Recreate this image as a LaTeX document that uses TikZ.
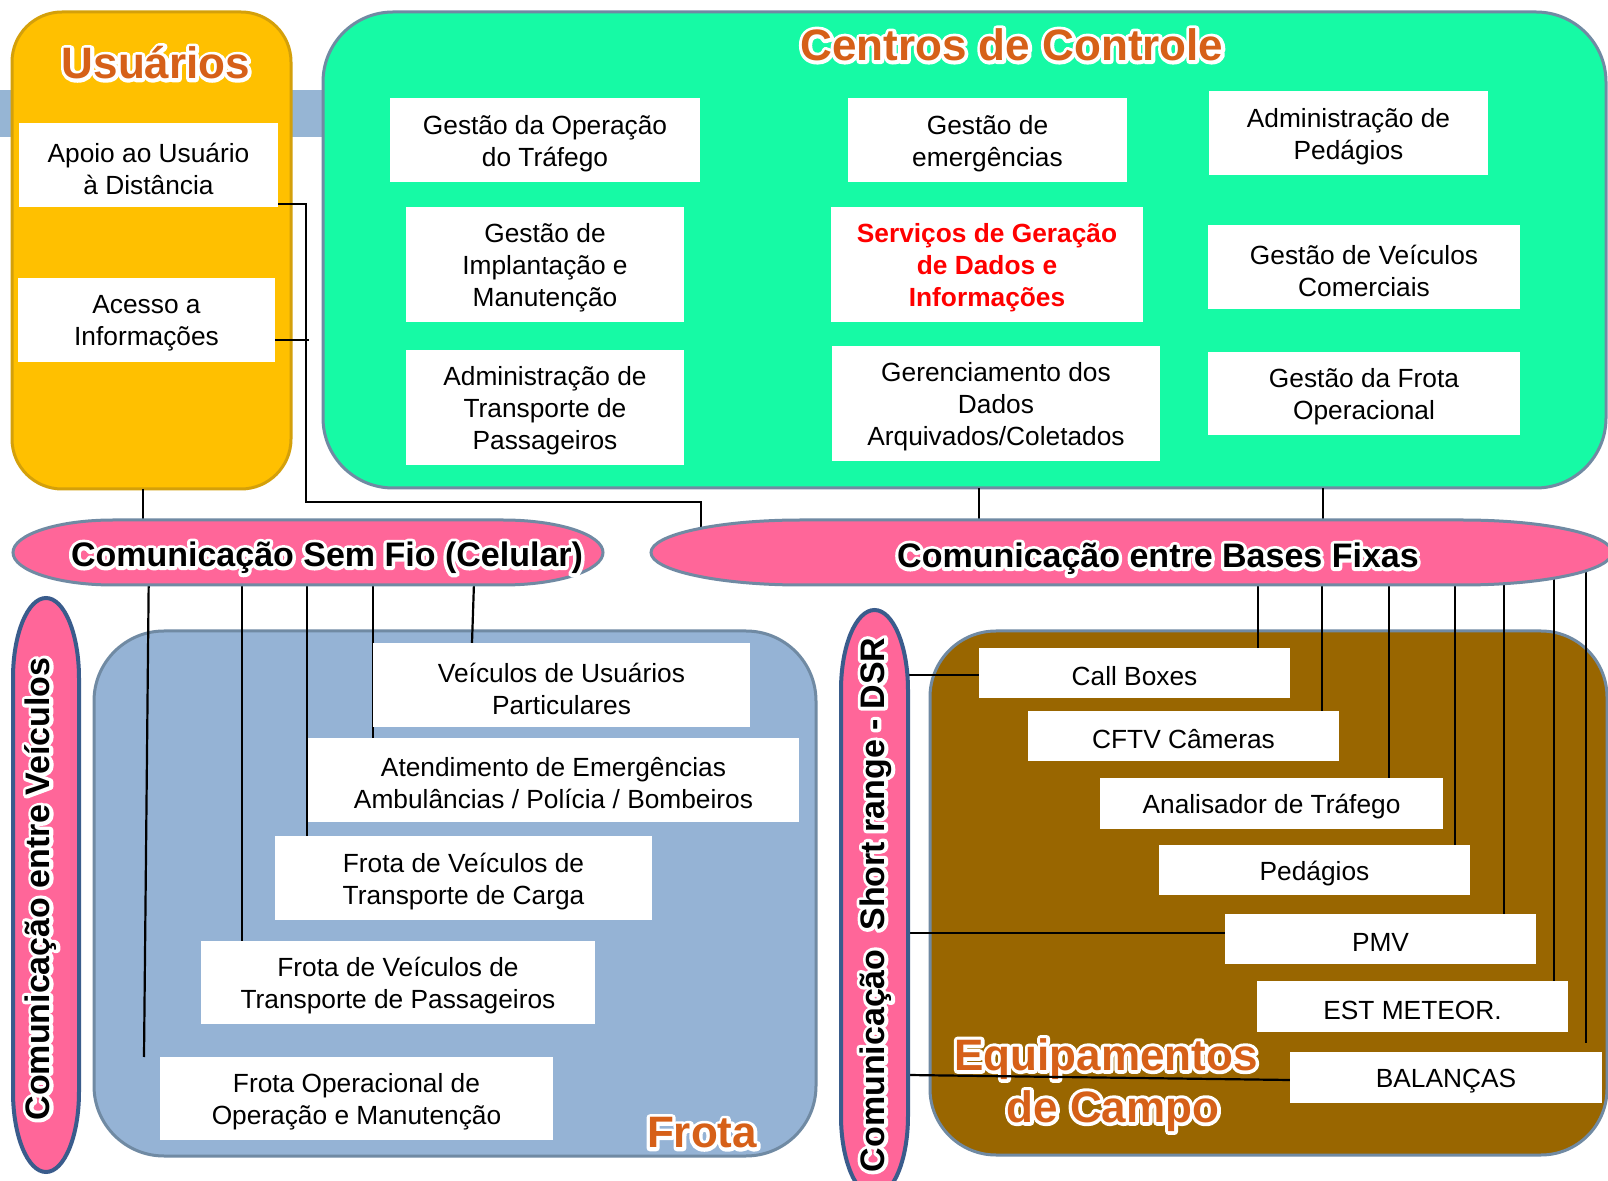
\documentclass[tikz,border=0pt]{standalone}
\usepackage{fontspec}
\setmainfont{Liberation Sans}
\pgfdeclarelayer{bg}
\pgfdeclarelayer{conn}
\pgfsetlayers{bg,conn,main}
\definecolor{usuF}{RGB}{255,192,0}
\definecolor{usuD}{RGB}{212,160,10}
\definecolor{ctrlF}{RGB}{22,250,165}
\definecolor{gbl}{RGB}{112,138,163}
\definecolor{dbl}{RGB}{58,92,140}
\definecolor{frF}{RGB}{149,179,213}
\definecolor{eqF}{RGB}{153,102,0}
\definecolor{pinkF}{RGB}{255,102,153}
\definecolor{titOr}{RGB}{214,96,24}
\definecolor{bandC}{RGB}{150,181,212}
\newcommand\bodyfont{\fontsize{13.15}{16}\selectfont}
\newcommand\titfont{\fontsize{22}{26}\selectfont\bfseries}
\newcommand\commfont{\fontsize{17}{20}\selectfont\bfseries}
% box from corners: style, name, x1, y1, x2, y2, text
\newcommand\bx[7]{\node[#1, minimum width={(#5-#3)*0.5pt}, minimum height={(#6-#4)*0.5pt}] (#2) at ({(#3+#5)/2},{(#4+#6)/2}) {#7};}
% white box with its text: text style, name, x1, y1, x2, y2, text
\newcommand\tb[7]{\bx{wbox}{#2}{#3}{#4}{#5}{#6}{}\node[#1, yshift=-1.75pt] (#2-t) at (#2.center) {#7};}
% horizontal band with elliptical caps: style, x1, y1, x2, y2, rx
\newcommand\hcap[6]{\path[#1] (#2+#6,#3) -- (#4-#6,#3) arc[start angle=90, end angle=-90, x radius=#6*0.5pt, y radius=(#5-#3)*0.25pt] -- (#2+#6,#5) arc[start angle=270, end angle=90, x radius=#6*0.5pt, y radius=(#5-#3)*0.25pt] -- cycle;}
% vertical band with elliptical caps: style, x1, y1, x2, y2, ry
\newcommand\vcap[6]{\path[#1] (#2,#3+#6) arc[start angle=180, end angle=0, x radius=(#4-#2)*0.25pt, y radius=#6*0.5pt] -- (#4,#5-#6) arc[start angle=0, end angle=-180, x radius=(#4-#2)*0.25pt, y radius=#6*0.5pt] -- cycle;}
% white stroked outline text
\newcommand\outlinetext[1]{\special{pdf:literal direct 1 Tr 3.4 w 1 j 1 J 1 1 1 RG}#1\special{pdf:literal direct 0 Tr}}
% outlined label: name, x,y, font, colour, rotation, text
\newcommand\glowlabel[6]{%
  \node[font=#3, text=white, rotate=#5, inner sep=0pt] (#1-o) at (#2) {\outlinetext{#6}};
  \node[font=#3, text=#4, rotate=#5, inner sep=0pt] (#1) at (#2) {#6};}
\tikzset{
  hold/.style={inner sep=0pt, outer sep=0pt},
  wbox/.style={hold, fill=white},
  wtext/.style={inner sep=0pt, align=center, font=\bodyfont},
  redtext/.style={wtext, text=red, font=\bodyfont\bfseries},
  usubox/.style={hold, fill=usuF, draw=usuD, line width=1.5pt, rounded corners=25pt},
  ctrlbox/.style={hold, fill=ctrlF, draw=gbl, line width=1.5pt, rounded corners=35pt},
  frotabox/.style={hold, fill=frF, draw=gbl, line width=1.5pt, rounded corners=35pt},
  eqbox/.style={hold, fill=eqF, draw=gbl, line width=1.5pt, rounded corners=33pt},
  pinkH/.style={fill=pinkF, draw=gbl, line width=1.5pt},
  pinkV/.style={fill=pinkF, draw=dbl, line width=2pt},
  conn/.style={draw=black, line width=1.1pt}
}
\begin{document}
\begin{tikzpicture}[x=0.5pt,y=-0.5pt]
\useasboundingbox (0,0) rectangle (1608,1181);
\begin{pgfonlayer}{bg}
  \fill[white] (0,0) rectangle (1608,1181);
  \fill[bandC] (0,90) rectangle (400,137);
  \bx{usubox}{usu}{12}{12}{291}{489}{}
  \bx{ctrlbox}{ctrl}{323}{12}{1606}{488}{}
  \bx{frotabox}{frota}{94}{631}{816}{1156}{}
  \bx{eqbox}{eqc}{930}{631}{1607}{1155}{}
  \glowlabel{tusu}{156,63}{\titfont}{titOr}{0}{Usuários}
  \glowlabel{tctrl}{1012,45}{\titfont}{titOr}{0}{Centros de Controle}
  \glowlabel{tfrota}{702,1133}{\titfont}{titOr}{0}{Frota}
  \glowlabel{teq}{1106,1059}{\titfont}{titOr}{0}{Equipamentos}
  \glowlabel{tcampo}{1113,1111}{\titfont}{titOr}{0}{de Campo}
\end{pgfonlayer}
% communication bands
\hcap{pinkH}{13}{520}{603}{585}{100}
\bx{hold}{semfio}{13}{520}{603}{585}{}
\hcap{pinkH}{651}{520}{1612}{585}{150}
\bx{hold}{bf}{651}{520}{1612}{585}{}
\vcap{pinkV}{13}{598}{79}{1172}{80}
\bx{hold}{cev}{13}{598}{79}{1172}{}
\vcap{pinkV}{841}{610}{908}{1196}{80}
\bx{hold}{dsr}{841}{610}{908}{1196}{}
\glowlabel{lsemfio}{327,558}{\commfont}{black}{0}{Comunicação Sem Fio (Celular)}
\glowlabel{lbf}{1158,559}{\commfont}{black}{0}{Comunicação entre Bases Fixas}
\glowlabel{lcev}{41,889}{\commfont}{black}{90}{Comunicação entre Veículos}
\glowlabel{ldsr}{876,905}{\commfont}{black}{90}{Comunicação\ \ Short range - DSR}
% Usuarios
\tb{wtext}{apoio}{19}{123}{278}{207}{Apoio ao Usuário\\à Distância}
\tb{wtext}{acesso}{18}{278}{275}{362}{Acesso a\\Informações}
% Centros de Controle
\tb{wtext}{gop}{390}{98}{700}{182}{Gestão da Operação\\do Tráfego}
\tb{wtext}{gem}{848}{98}{1127}{182}{Gestão de\\emergências}
\tb{wtext}{adp}{1209}{91}{1488}{175}{Administração de\\Pedágios}
\tb{wtext}{gim}{406}{207}{684}{322}{Gestão de\\Implantação e\\Manutenção}
\tb{redtext}{sgd}{831}{207}{1143}{322}{Serviços de Geração\\de Dados e\\Informações}
\tb{wtext}{gvc}{1208}{225}{1520}{309}{Gestão de Veículos\\Comerciais}
\tb{wtext}{atp}{406}{350}{684}{465}{Administração de\\Transporte de\\Passageiros}
\tb{wtext}{gda}{832}{346}{1160}{461}{Gerenciamento dos\\Dados\\Arquivados/Coletados}
\tb{wtext}{gfo}{1208}{352}{1520}{435}{Gestão da Frota\\Operacional}
% Frota
\tb{wtext}{vup}{373}{643}{750}{727}{Veículos de Usuários\\Particulares}
\tb{wtext}{aem}{308}{738}{799}{822}{Atendimento de Emergências\\Ambulâncias / Polícia / Bombeiros}
\tb{wtext}{fcg}{275}{836}{652}{920}{Frota de Veículos de\\Transporte de Carga}
\tb{wtext}{fps}{201}{941}{595}{1024}{Frota de Veículos de\\Transporte de Passageiros}
\tb{wtext}{fop}{160}{1057}{553}{1140}{Frota Operacional de\\Operação e Manutenção}
% Equipamentos de Campo
\tb{wtext}{cbx}{979}{648}{1290}{698}{Call Boxes}
\tb{wtext}{cftv}{1028}{711}{1339}{761}{CFTV Câmeras}
\tb{wtext}{anl}{1100}{778}{1443}{829}{Analisador de Tráfego}
\tb{wtext}{ped}{1159}{845}{1470}{895}{Pedágios}
\tb{wtext}{pmv}{1225}{914}{1536}{964}{PMV}
\tb{wtext}{est}{1257}{981}{1568}{1032}{EST METEOR.}
\tb{wtext}{bal}{1290}{1052}{1602}{1103}{BALANÇAS}
\coordinate (balTop) at (1586,1043);
% connectors
\begin{pgfonlayer}{conn}
  \draw[conn] (143,0 |- usu.south) -- (143,0 |- semfio.north);
  \draw[conn] (apoio.east |- 0,204) -- (306,204) -- (306,502) -- (701,502) -- (701,0 |- bf.center);
  \draw[conn] (acesso.east |- 0,340) -- (309,340);
  \draw[conn] (979,0 |- ctrl.south) -- (979,0 |- bf.center);
  \draw[conn] (1323,0 |- ctrl.south) -- (1323,0 |- bf.center);
  \draw[conn] (475,0 |- semfio.center) -- (472,0 |- vup.north);
  \draw[conn] (373,0 |- semfio.center) -- (373,0 |- aem.north);
  \draw[conn] (307,0 |- semfio.center) -- (307,0 |- fcg.north);
  \draw[conn] (242,0 |- semfio.center) -- (242,0 |- fps.north);
  \draw[conn] (149,0 |- semfio.center) -- (144,0 |- fop.north);
  \foreach \xx/\bb in {1258/cbx,1322/cftv,1389/anl,1455/ped,1504/pmv,1554/est}
    {\draw[conn] (\xx,0 |- bf.center) -- (\xx,0 |- \bb.north);}
  \draw[conn] (1586,0 |- bf.center) -- (balTop);
  \draw[conn] (dsr.east |- 0,675) -- (cbx.west |- 0,675);
  \draw[conn] (dsr.east |- 0,933) -- (pmv.west |- 0,933);
  \draw[conn] (dsr.east |- 0,1075) -- ([yshift=-1.25pt]bal.west);
\end{pgfonlayer}
\end{tikzpicture}
\end{document}
